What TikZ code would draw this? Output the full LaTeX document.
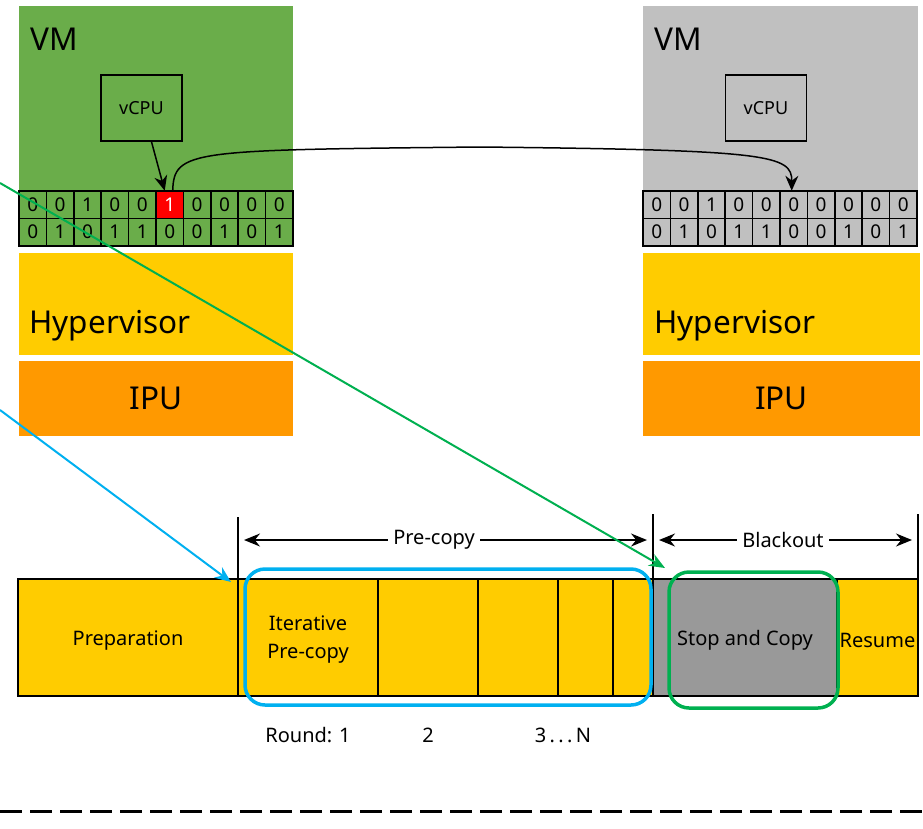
\documentclass[tikz,border=0pt]{standalone}
\usepackage{fontspec}
\setmainfont{Noto Sans}
\usetikzlibrary{arrows.meta}
\definecolor{vmgreen}{HTML}{6AAD4A}
\definecolor{vmgray}{HTML}{C0C0C0}
\definecolor{hvyellow}{HTML}{FFCC00}
\definecolor{ipuorange}{HTML}{FF9900}
\definecolor{stopgray}{HTML}{999999}
\definecolor{bluearrow}{HTML}{00B0F0}
\definecolor{greenarrow}{HTML}{00B050}
\tikzset{
  bit/.style={draw, line width=1.5, minimum width=27.4, minimum height=27.5, inner sep=0pt, outer sep=0pt, font=\fontsize{19}{20}\selectfont},
  layer/.style={anchor=north west, inner sep=0pt, outer sep=0pt},
  biglabel/.style={font=\fontsize{31.5}{36}\selectfont},
  stage/.style={draw, line width=1.5, fill=hvyellow, anchor=north west, minimum height=117, inner sep=0pt, outer sep=0pt},
  stagetext/.style={font=\fontsize{20}{28}\selectfont, align=center},
  dimarrow/.style={{Stealth[length=16,width=13]}-{Stealth[length=16,width=13]}, line width=1.5},
  smalltext/.style={font=\fontsize{20}{22}\selectfont}
}
\begin{document}
\begin{tikzpicture}[x=1pt,y=-1pt]
                \useasboundingbox (0,0) rectangle (923,828);

                % source host
                \node[layer, fill=vmgreen, minimum width=274, minimum height=185] (vml) at (19,6) {};
                \node[layer, fill=hvyellow, minimum width=274, minimum height=102] (hvl) at (19,253) {};
                \node[layer, fill=ipuorange, minimum width=274, minimum height=75] (ipul) at (19,361) {};
                \node[biglabel, anchor=base west] at (27,50) {VM};
                \node[biglabel, anchor=base west] at (26,333) {Hypervisor};
                \node[biglabel] at (ipul.center) {IPU};
                \node[draw, line width=1.5, minimum width=81, minimum height=66, font=\fontsize{18}{20}\selectfont] (vcpul) at (141.5,108) {vCPU};

                % destination host
                \node[layer, fill=vmgray, minimum width=275, minimum height=185] (vmr) at (643,6) {};
                \node[layer, fill=hvyellow, minimum width=277, minimum height=102] (hvr) at (643,253) {};
                \node[layer, fill=ipuorange, minimum width=277, minimum height=75] (ipur) at (643,361) {};
                \node[biglabel, anchor=base west] at (651,50) {VM};
                \node[biglabel, anchor=base west] at (651,333) {Hypervisor};
                \node[biglabel] at (ipur.center) {IPU};
                \node[draw, line width=1.5, minimum width=81, minimum height=66, font=\fontsize{18}{20}\selectfont] (vcpur) at (766,108) {vCPU};

                % dirty bitmaps
                \foreach \b [count=\i from 0] in {0,0,1,0,0,1,0,0,0,0}
                    \node[bit, fill=vmgreen] (lt\i) at (32.7+27.4*\i,204.5) {\b};
                \foreach \b [count=\i from 0] in {0,1,0,1,1,0,0,1,0,1}
                    \node[bit, fill=vmgreen] (lb\i) at (32.7+27.4*\i,232) {\b};
                \node[bit, fill=red, text=white] at (lt5) {1};
                \foreach \b [count=\i from 0] in {0,0,1,0,0,0,0,0,0,0}
                    \node[bit, fill=vmgray] (rt\i) at (656.7+27.4*\i,204.5) {\b};
                \foreach \b [count=\i from 0] in {0,1,0,1,1,0,0,1,0,1}
                    \node[bit, fill=vmgray] (rb\i) at (656.7+27.4*\i,232) {\b};

                \draw[-{Stealth[length=15,width=13]}, line width=1.5] ([xshift=10]vcpul.south) -- ([xshift=-5]lt5.north);
                \draw[-{Stealth[length=15,width=13]}, line width=1.5] ([xshift=3]lt5.north) .. controls (174,150) and (190,150) .. (480,147) .. controls (770,150) and (792,155) .. ([xshift=-2]rt5.north);

                % timeline
                \node[stage, minimum width=220] (prep) at (18,579) {};
                \node[stage, minimum width=140] (r1) at (238,579) {};
                \node[stage, minimum width=100] (r2) at (378,579) {};
                \node[stage, minimum width=80] (r3) at (478,579) {};
                \node[stage, minimum width=55] (r4) at (558,579) {};
                \node[stage, minimum width=40] (r5) at (613,579) {};
                \node[stage, minimum width=184, fill=stopgray] (stop) at (653,579) {};
                \node[stage, minimum width=81] (resume) at (837,579) {};
                \node[stagetext] at ([yshift=-3]prep.center) {Preparation};
                \node[stagetext] at ([yshift=-2]r1.center) {Iterative\\Pre-copy};
                \node[stagetext] at ([yshift=-3]stop.center) {Stop and Copy};
                \node[stagetext] at ([yshift=-3]resume.center) {Resume};

                \coordinate (t1) at (238,517);
                \coordinate (t2) at (653,514);
                \coordinate (t3) at (918,514);
                \draw[line width=1.5] (t1) -- (prep.south east);
                \draw[line width=1.5] (t2) -- (stop.south west);
                \draw[line width=1.5] (t3) -- (resume.north east);

                \coordinate (pcmid) at (434,540);
                \coordinate (bomid) at (783,540);
                \draw[dimarrow] ([xshift=6]t1 |- pcmid) -- ([xshift=-6]t2 |- pcmid);
                \node[fill=white, inner sep=5, smalltext] (pclabel) at (pcmid) {Pre-copy};
                \draw[dimarrow] ([xshift=6]t2 |- bomid) -- ([xshift=-6]t3 |- bomid);
                \node[fill=white, inner sep=5, smalltext] (bolabel) at (bomid) {Blackout};

                \node[draw=bluearrow, line width=3.5, rounded corners=20, minimum width=406, minimum height=136] (itbox) at (448,637) {};
                \node[draw=greenarrow, line width=3.5, rounded corners=20, minimum width=169, minimum height=136] (stopbox) at (753.5,640) {};

                \node[smalltext] (rd1) at (308,735) {Round: 1};
                \node[smalltext] (rd2) at (428,735) {2};
                \node[smalltext] (rd3) at (563,735) {3\,.\,.\,.\,N};

                % pointers
                \coordinate (gstart) at (0,183);
                \coordinate (gend) at (665,568);
                \coordinate (bstart) at (0,410);
                \coordinate (bend) at (231,582);
                \draw[greenarrow, line width=2, -{Stealth[length=16,width=13]}] (gstart) -- (gend);
                \draw[bluearrow, line width=2, -{Stealth[length=16,width=13]}] (bstart) -- (bend);

                \coordinate (d1) at (0,811);
                \coordinate (d2) at (923,811);
                \draw[line width=3, dash pattern=on 22 off 8] (d1) -- (d2);
            \end{tikzpicture}
\end{document}
